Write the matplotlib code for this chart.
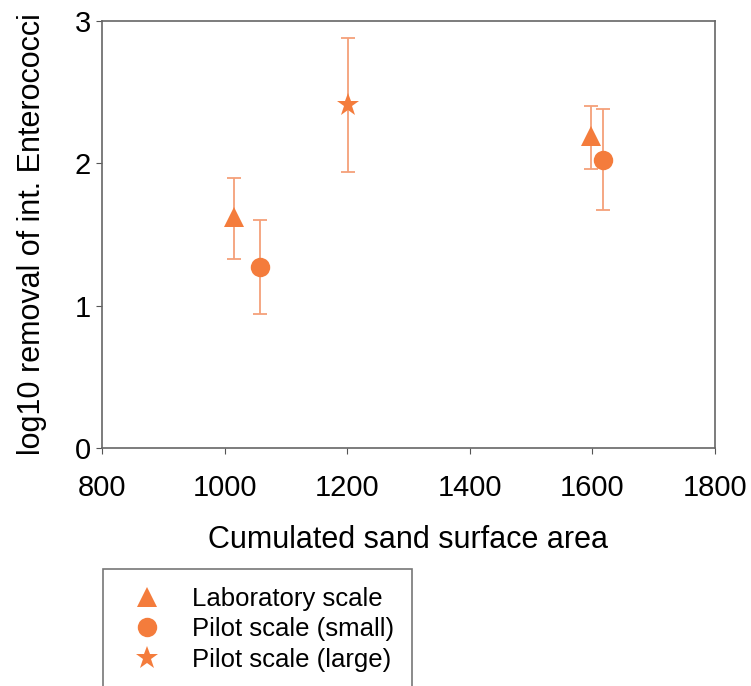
import matplotlib.pyplot as plt

plt.rcParams["font.family"] = ["Liberation Sans", "DejaVu Sans"]

series_names = ["Laboratory scale", "Pilot scale (small)", "Pilot scale (large)"]
series_markers = ["^", "o", "*"]

lab_x = [1015, 1597]
lab_y = [1.62, 2.19]
lab_lo = [1.33, 1.96]
lab_hi = [1.90, 2.40]

small_x = [1057, 1618]
small_y = [1.27, 2.02]
small_lo = [0.94, 1.67]
small_hi = [1.60, 2.38]

large_x = [1202]
large_y = [2.41]
large_lo = [1.94]
large_hi = [2.88]

x_ticks = [800, 1000, 1200, 1400, 1600, 1800]
y_ticks = [0, 1, 2, 3]

marker_color = "#F47C3C"
err_color = "#F5A07A"

fig = plt.figure(figsize=(7.51, 6.86), dpi=100)
ax = fig.add_axes([102 / 751, 1 - 448 / 686, 613 / 751, 427 / 686])

groups = [
    (lab_x, lab_y, lab_lo, lab_hi, 15),
    (small_x, small_y, small_lo, small_hi, 14),
    (large_x, large_y, large_lo, large_hi, 17),
]
handles = []
for (xs, ys, lo, hi, ms), mk, name in zip(groups, series_markers, series_names):
    yerr = [[y - l for y, l in zip(ys, lo)], [h - y for y, h in zip(ys, hi)]]
    ax.errorbar(xs, ys, yerr=yerr, fmt="none", ecolor=err_color, elinewidth=1.3,
                capsize=5, capthick=1.3, zorder=2)
    h, = ax.plot(xs, ys, linestyle="none", marker=mk, markersize=ms,
                 color=marker_color, markeredgewidth=0, zorder=3, label=name)
    handles.append(h)

ax.set_xlim(800, 1800)
ax.set_ylim(0, 3)
ax.set_xticks(x_ticks)
ax.set_yticks(y_ticks)
ax.tick_params(labelsize=21, length=4, color="#555555")
ax.tick_params(axis="x", pad=15)
ax.tick_params(axis="y", pad=4)
for s in ax.spines.values():
    s.set_color("#666666")
    s.set_linewidth(1.2)

ax.set_xlabel("Cumulated sand surface area", fontsize=22, labelpad=16)
ax.set_ylabel("log10 removal of int. Enterococci", fontsize=22, labelpad=20)

leg = fig.legend(handles=handles, loc="upper left",
                 bbox_to_anchor=(103 / 751, 1 - 569 / 686),
                 fontsize=18.5, frameon=True, fancybox=False, borderpad=0.7,
                 handlelength=2.0, handletextpad=0.76, labelspacing=0.25,
                 markerscale=1.0, borderaxespad=0)
leg.get_frame().set_edgecolor("#555555")
leg.get_frame().set_linewidth(1.2)

fig.savefig("out.png", dpi=100)
